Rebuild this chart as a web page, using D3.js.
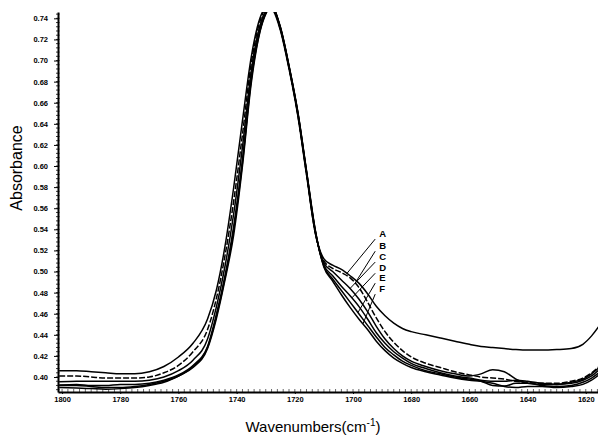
<!DOCTYPE html>
<html>
<head>
<meta charset="utf-8">
<script src="https://cdn.jsdelivr.net/npm/d3@7"></script>
<style>
  body { margin: 0; background: #fff; }
  svg { display: block; font-family: "Liberation Sans", Arial, sans-serif; }
</style>
</head>
<body>
<svg width="598" height="439"></svg>
<script>
// wavenumber grid (cm-1), shared by all spectra
var wavenumbers = [1801, 1795, 1790, 1785, 1780, 1775, 1770, 1765, 1760, 1755,
                   1750, 1747, 1744, 1741, 1738, 1735, 1732, 1730, 1728, 1725,
                   1722, 1719, 1716, 1713, 1710, 1707, 1704, 1701, 1698, 1695,
                   1692, 1689, 1686, 1683, 1680, 1675, 1670, 1665, 1660, 1656,
                   1652, 1648, 1644, 1640, 1635, 1630, 1625, 1621, 1618, 1615];

var specA = [0.406, 0.406, 0.405, 0.404, 0.403, 0.403, 0.405, 0.410, 0.419, 0.432,
             0.455, 0.482, 0.524, 0.580, 0.643, 0.703, 0.740, 0.750, 0.749, 0.729,
             0.692, 0.648, 0.592, 0.537, 0.512, 0.506, 0.502, 0.496, 0.489, 0.479,
             0.467, 0.458, 0.451, 0.446, 0.443, 0.440, 0.437, 0.434, 0.431, 0.429,
             0.428, 0.427, 0.426, 0.4255, 0.4255, 0.426, 0.427, 0.431, 0.439, 0.450];
var specB = [0.401, 0.401, 0.400, 0.399, 0.399, 0.399, 0.400, 0.404, 0.411, 0.424,
             0.445, 0.474, 0.515, 0.567, 0.630, 0.697, 0.737, 0.749, 0.750, 0.730,
             0.693, 0.649, 0.593, 0.537, 0.510, 0.503, 0.499, 0.494, 0.485, 0.471,
             0.456, 0.443, 0.433, 0.425, 0.419, 0.413, 0.409, 0.405, 0.402, 0.400,
             0.399, 0.398, 0.396, 0.395, 0.394, 0.394, 0.396, 0.399, 0.404, 0.411];
var specC = [0.3955, 0.396, 0.396, 0.396, 0.396, 0.396, 0.397, 0.400, 0.406, 0.416,
             0.436, 0.466, 0.505, 0.555, 0.618, 0.690, 0.733, 0.747, 0.751, 0.731,
             0.694, 0.650, 0.594, 0.538, 0.508, 0.500, 0.492, 0.484, 0.474, 0.462,
             0.448, 0.436, 0.427, 0.420, 0.415, 0.410, 0.406, 0.403, 0.401, 0.403,
             0.407, 0.405, 0.398, 0.394, 0.393, 0.393, 0.395, 0.398, 0.403, 0.410];
var specD = [0.3925, 0.393, 0.392, 0.392, 0.393, 0.393, 0.394, 0.397, 0.402, 0.411,
             0.429, 0.459, 0.496, 0.543, 0.606, 0.683, 0.729, 0.745, 0.751, 0.731,
             0.694, 0.651, 0.595, 0.539, 0.506, 0.496, 0.486, 0.477, 0.467, 0.455,
             0.442, 0.432, 0.424, 0.418, 0.413, 0.408, 0.404, 0.401, 0.399, 0.397,
             0.396, 0.396, 0.397, 0.396, 0.394, 0.393, 0.394, 0.397, 0.401, 0.408];
var specE = [0.390, 0.3895, 0.389, 0.3885, 0.389, 0.390, 0.392, 0.395, 0.401, 0.409,
             0.427, 0.455, 0.492, 0.535, 0.600, 0.678, 0.727, 0.744, 0.751, 0.732,
             0.695, 0.651, 0.595, 0.539, 0.505, 0.493, 0.482, 0.471, 0.460, 0.449,
             0.438, 0.428, 0.421, 0.415, 0.411, 0.406, 0.403, 0.400, 0.398, 0.396,
             0.392, 0.3915, 0.394, 0.394, 0.392, 0.391, 0.392, 0.395, 0.399, 0.405];
var specF = [0.392, 0.392, 0.391, 0.390, 0.390, 0.391, 0.393, 0.396, 0.401, 0.410,
             0.428, 0.457, 0.494, 0.540, 0.603, 0.681, 0.728, 0.745, 0.751, 0.732,
             0.695, 0.652, 0.596, 0.540, 0.504, 0.491, 0.478, 0.466, 0.455, 0.445,
             0.434, 0.425, 0.418, 0.413, 0.409, 0.405, 0.402, 0.399, 0.397, 0.396,
             0.394, 0.391, 0.390, 0.391, 0.391, 0.390, 0.391, 0.393, 0.397, 0.403];

var seriesNames = ['A', 'B', 'C', 'D', 'E', 'F'];
var seriesValues = [specA, specB, specC, specD, specE, specF];
var seriesDash = [null, '6,2', null, null, null, null];

// labels: where each leader line touches its curve, and where the letter sits
var leaderWave = [1702.1, 1699.3, 1701.0, 1700.4, 1698.3, 1696.6];
var labelWave = 1691.0;
var labelAbs = [0.5355, 0.5240, 0.5137, 0.5031, 0.4937, 0.4833];

var yTicks = [0.40, 0.42, 0.44, 0.46, 0.48, 0.50, 0.52, 0.54, 0.56, 0.58,
              0.60, 0.62, 0.64, 0.66, 0.68, 0.70, 0.72, 0.74];
var xTicks = [1800, 1780, 1760, 1740, 1720, 1700, 1680, 1660, 1640, 1620];

var svg = d3.select('svg');
var plotL = 58, plotR = 598, plotT = 12, plotB = 392;

var x = d3.scaleLinear().domain([1801.4, 1615.8]).range([plotL, plotR]);
var y = d3.scaleLinear().domain([0.3858, 0.746]).range([plotB, plotT]);

svg.append('clipPath').attr('id', 'plotclip')
  .append('rect')
  .attr('x', plotL).attr('y', plotT)
  .attr('width', plotR - plotL).attr('height', plotB - plotT);

// minor ticks on y axis
var yMinor = d3.range(0.388, 0.746, 0.004);
svg.append('g').selectAll('line').data(yMinor).enter().append('line')
  .attr('x1', plotL - 2).attr('x2', plotL + 1.5)
  .attr('y1', function(d){ return y(d); }).attr('y2', function(d){ return y(d); })
  .attr('stroke', '#000').attr('stroke-width', 0.8);

// minor ticks on x axis
var xMinor = d3.range(1800, 1615, -2);
svg.append('g').selectAll('line').data(xMinor).enter().append('line')
  .attr('x1', function(d){ return x(d); }).attr('x2', function(d){ return x(d); })
  .attr('y1', plotB - 3).attr('y2', plotB)
  .attr('stroke', '#000').attr('stroke-width', 0.6);

var yAxis = svg.append('g')
  .attr('transform', 'translate(' + plotL + ',0)')
  .call(d3.axisLeft(y).tickValues(yTicks).tickSize(4).tickSizeOuter(0).tickPadding(6)
        .tickFormat(d3.format('.2f')));
yAxis.select('.domain').attr('stroke-width', 2);
yAxis.selectAll('text').attr('font-size', 7.5).attr('font-weight', 'bold')
  .attr('font-family', '"Liberation Sans", Arial, sans-serif');

var xAxis = svg.append('g')
  .attr('transform', 'translate(0,' + plotB + ')')
  .call(d3.axisBottom(x).tickValues(xTicks).tickSize(2).tickSizeOuter(0).tickPadding(3)
        .tickFormat(d3.format('d')));
xAxis.select('.domain').attr('stroke-width', 2);
xAxis.selectAll('text').attr('font-size', 7.5).attr('font-weight', 'bold')
  .attr('font-family', '"Liberation Sans", Arial, sans-serif');

// spectra
var line = d3.line()
  .x(function(d){ return x(d[0]); })
  .y(function(d){ return y(d[1]); })
  .curve(d3.curveMonotoneX);

var curves = svg.append('g').attr('clip-path', 'url(#plotclip)');
seriesValues.forEach(function(vals, i) {
  var pts = wavenumbers.map(function(w, k){ return [w, vals[k]]; });
  curves.append('path')
    .attr('d', line(pts))
    .attr('fill', 'none')
    .attr('stroke', '#000')
    .attr('stroke-width', 1.5)
    .attr('stroke-dasharray', seriesDash[i]);
});

function valueAt(vals, w) {
  for (var k = 0; k < wavenumbers.length - 1; k++) {
    var w0 = wavenumbers[k], w1 = wavenumbers[k + 1];
    if (w <= w0 && w >= w1) {
      var t = (w0 - w) / (w0 - w1);
      return vals[k] + t * (vals[k + 1] - vals[k]);
    }
  }
  return vals[vals.length - 1];
}

// leader lines and letters
var labels = svg.append('g');
seriesNames.forEach(function(name, i) {
  var lx = x(labelWave), ly = y(labelAbs[i]);
  labels.append('line')
    .attr('x1', lx - 4).attr('y1', ly + 5)
    .attr('x2', x(leaderWave[i])).attr('y2', y(valueAt(seriesValues[i], leaderWave[i])))
    .attr('stroke', '#000').attr('stroke-width', 1);
  labels.append('text')
    .attr('x', lx).attr('y', ly + 3)
    .attr('font-size', 9.5).attr('font-weight', 'bold')
    .text(name);
});

// axis titles
svg.append('text')
  .attr('transform', 'translate(22,168) rotate(-90)')
  .attr('text-anchor', 'middle')
  .attr('font-size', 16)
  .text('Absorbance');

var xt = svg.append('text')
  .attr('x', 313).attr('y', 432)
  .attr('text-anchor', 'middle')
  .attr('font-size', 15);
xt.append('tspan').text('Wavenumbers(cm');
xt.append('tspan').attr('dy', -6).attr('font-size', 10).text('-1');
xt.append('tspan').attr('dy', 6).text(')');
</script>
</body>
</html>
